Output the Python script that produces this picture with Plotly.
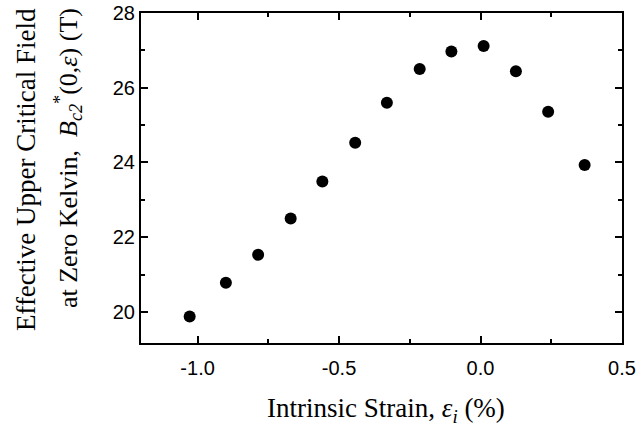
import plotly.graph_objects as go

strain = [-1.028, -0.900, -0.786, -0.671, -0.559, -0.443, -0.331, -0.215, -0.103, 0.011, 0.125, 0.239, 0.368]
bc2 = [19.88, 20.78, 21.53, 22.50, 23.49, 24.53, 25.60, 26.50, 26.97, 27.12, 26.44, 25.36, 23.93]

x_ticks = [-1.0, -0.5, 0.0, 0.5]
x_ticklabels = ["-1.0", "-0.5", "0.0", "0.5"]
y_ticks = [20, 22, 24, 26, 28]

x_title = "Intrinsic Strain, <i>ε<sub>i</sub></i> (%)"
y_title_1 = "Effective Upper Critical Field"
y_title_2 = "at Zero Kelvin,  <i>B</i><sub><i>c2</i></sub><sup>*</sup>(0,<i>ε</i>) (T)"

fig = go.Figure()
fig.add_trace(go.Scatter(x=strain, y=bc2, mode="markers",
                         marker=dict(color="black", size=12, line=dict(width=0)),
                         showlegend=False))

tickfont = dict(family="Liberation Sans, Arial, sans-serif", size=20, color="black")
titlefont = dict(family="Liberation Serif, Times New Roman, serif", size=27, color="black")
titlefont2 = dict(family="Liberation Serif, Times New Roman, serif", size=26, color="black")

fig.update_layout(
    width=638, height=427,
    margin=dict(l=141, r=16, t=13, b=84),
    paper_bgcolor="white", plot_bgcolor="white",
    xaxis=dict(
        range=[-1.2, 0.5], tickmode="array", tickvals=x_ticks, ticktext=x_ticklabels,
        ticks="inside", ticklen=7, tickwidth=2, tickcolor="black",
        minor=dict(dtick=0.25, tick0=0, ticks="inside", ticklen=4, tickwidth=1.5, tickcolor="black"),
        showline=True, linecolor="black", linewidth=2, mirror="ticks",
        showgrid=False, zeroline=False, tickfont=tickfont, ticklabelstandoff=6,
        automargin=False,
    ),
    yaxis=dict(
        range=[19.17, 28], tickmode="array", tickvals=y_ticks,
        ticks="inside", ticklen=7, tickwidth=2, tickcolor="black",
        minor=dict(dtick=1, tick0=0, ticks="inside", ticklen=4, tickwidth=1.5, tickcolor="black"),
        showline=True, linecolor="black", linewidth=2, mirror="ticks",
        showgrid=False, zeroline=False, tickfont=tickfont,
        automargin=False,
    ),
    annotations=[
        dict(text=x_title, xref="paper", yref="paper", x=0.509, y=-0.203,
             xanchor="center", yanchor="middle", showarrow=False, font=titlefont),
        dict(text=y_title_1, xref="paper", yref="paper", x=-0.239, y=0.524,
             xanchor="center", yanchor="middle", showarrow=False, font=titlefont, textangle=-90),
        dict(text=y_title_2, xref="paper", yref="paper", x=-0.152, y=0.56,
             xanchor="center", yanchor="middle", showarrow=False, font=titlefont2, textangle=-90),
    ],
)

fig.write_html("out.html", config={"displayModeBar": False},
               post_script="document.body.style.margin='0';")
